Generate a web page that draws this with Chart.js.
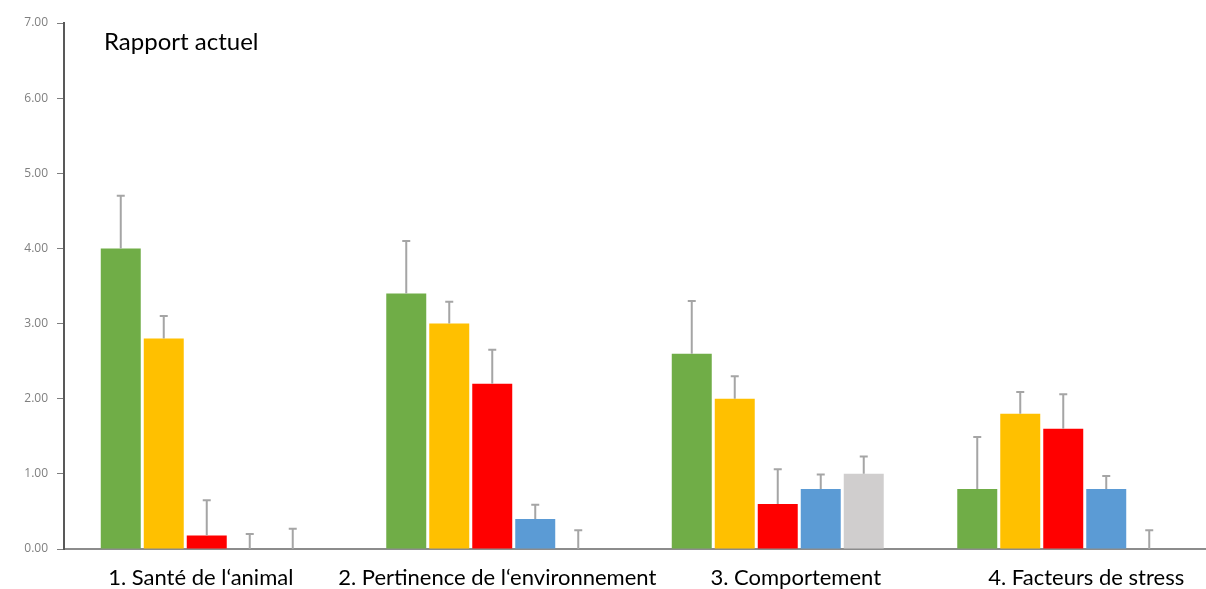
<!DOCTYPE html>
<html>
<head>
<meta charset="utf-8">
<script src="https://cdn.jsdelivr.net/npm/chart.js@4.4.0/dist/chart.umd.min.js"></script>
<style>
  html, body { margin: 0; padding: 0; background: #fff; }
  #wrap { width: 1206px; height: 589px; }
</style>
</head>
<body>
<div id="wrap"><canvas id="chart"></canvas></div>
<script>
var categories = ["1. Santé de l‘animal", "2. Pertinence de l‘environnement", "3. Comportement", "4. Facteurs de stress"];
var greenVals  = [4.0, 3.4, 2.6, 0.8];
var orangeVals = [2.8, 3.0, 2.0, 1.8];
var redVals    = [0.18, 2.2, 0.6, 1.6];
var blueVals   = [0, 0.4, 0.8, 0.8];
var greyVals   = [0, 0, 1.0, 0];

// error amounts (upper only)
var greenErr  = [0.7, 0.7, 0.7, 0.69];
var orangeErr = [0.3, 0.29, 0.3, 0.29];
var redErr    = [0.47, 0.45, 0.46, 0.46];
var blueErr   = [0.2, 0.19, 0.19, 0.17];
var greyErr   = [0.27, 0.25, 0.23, 0.25];

var yTicks = [0, 1, 2, 3, 4, 5, 6, 7];
var titleText = "Rapport actuel";

var errorBarPlugin = {
	id: "errorBars",
	afterDatasetsDraw: function(chart) {
		var ctx = chart.ctx;
		var y = chart.scales.y;
		ctx.save();
		ctx.strokeStyle = "#a5a5a5";
		ctx.lineWidth = 2;
		chart.data.datasets.forEach(function(ds, i) {
			var meta = chart.getDatasetMeta(i);
			meta.data.forEach(function(bar, j) {
				var top = y.getPixelForValue(ds.data[j] + ds.errors[j]);
				var base = y.getPixelForValue(ds.data[j]);
				ctx.beginPath();
				ctx.moveTo(bar.x, base);
				ctx.lineTo(bar.x, top);
				ctx.moveTo(bar.x - 4, top);
				ctx.lineTo(bar.x + 4, top);
				ctx.stroke();
			});
		});
		ctx.restore();
	}
};

var labelPlugin = {
	id: "catLabels",
	afterDraw: function(chart, args, opts) {
		var ctx = chart.ctx;
		var x = chart.scales.x;
		ctx.save();
		ctx.fillStyle = "#000";
		ctx.font = "22px Lato, 'Noto Sans', sans-serif";
		ctx.textAlign = "center";
		ctx.textBaseline = "middle";
		chart.data.labels.forEach(function(lab, i) {
			ctx.fillText(lab, x.getPixelForValue(i) + opts.offsets[i], chart.chartArea.bottom + 29);
		});
		ctx.font = "24px Lato, 'Noto Sans', sans-serif";
		ctx.textAlign = "left";
		ctx.fillText(titleText, chart.chartArea.left + 40, chart.chartArea.top + 19);
		ctx.restore();
	}
};

function makeSet(label, vals, errs, color) {
	return {
		label: label,
		data: vals,
		errors: errs,
		backgroundColor: color,
		borderWidth: 0,
		barPercentage: 0.93,
		categoryPercentage: 0.753
	};
}

new Chart(document.getElementById("chart"), {
	type: "bar",
	data: {
		labels: categories,
		datasets: [
			makeSet("green", greenVals, greenErr, "#70ad47"),
			makeSet("orange", orangeVals, orangeErr, "#ffc000"),
			makeSet("red", redVals, redErr, "#ff0000"),
			makeSet("blue", blueVals, blueErr, "#5b9bd5"),
			makeSet("grey", greyVals, greyErr, "#d0cece")
		]
	},
	options: {
		responsive: true,
		maintainAspectRatio: false,
		animation: false,
		layout: { padding: { top: 23, right: 0, left: 0, bottom: 0 } },
		plugins: {
			legend: { display: false },
			tooltip: { enabled: false },
			catLabels: { offsets: [-6, 5, 18, 23] }
		},
		scales: {
			x: {
				grid: { display: false },
				border: { display: true, color: "#8c8c8c", width: 2 },
				ticks: { display: false },
				afterFit: function(s) { s.height = 40; }
			},
			y: {
				min: 0,
				max: 7,
				afterBuildTicks: function(s) { s.ticks = yTicks.map(function(v) { return { value: v }; }); },
				afterFit: function(s) { s.width = 64; },
				grid: { drawOnChartArea: false, drawTicks: true, tickLength: 7, color: "#7f7f7f", lineWidth: 1 },
				border: { display: true, color: "#595959", width: 2 },
				ticks: {
					color: "#7f7f7f",
					padding: 9,
					font: { size: 12, family: "'Open Sans', sans-serif" },
					callback: function(v) { return v.toFixed(2); }
				}
			}
		}
	},
	plugins: [errorBarPlugin, labelPlugin]
});
</script>
</body>
</html>
